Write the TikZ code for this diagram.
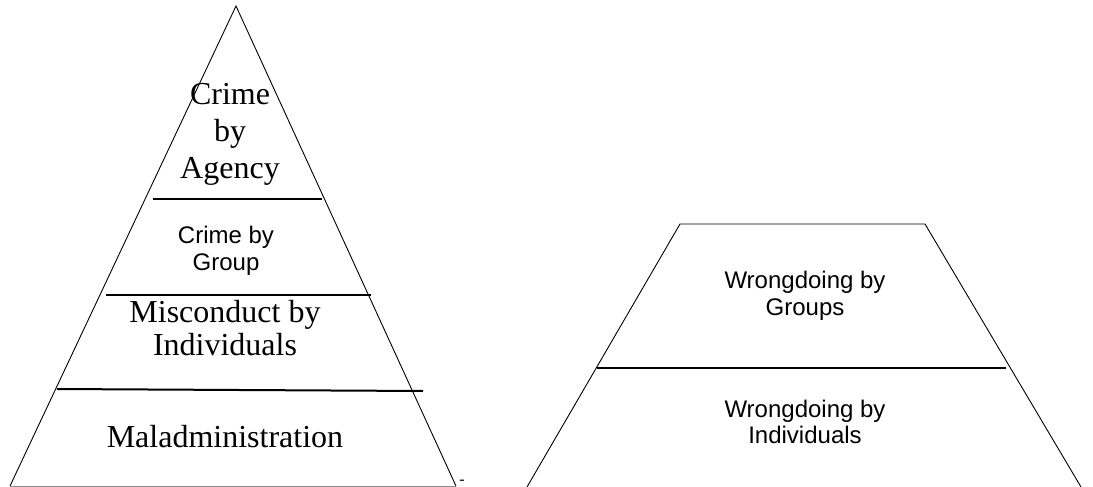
\documentclass[tikz,border=0pt]{standalone}
\usepackage{fontspec}
\setmainfont{Liberation Serif}
\setsansfont{Liberation Sans}
\begin{document}
\begin{tikzpicture}[x=1pt,y=-1pt,
  outline/.style={draw=black,line width=0.9pt},
  divider/.style={draw=black,line width=2pt},
  baseedge/.style={draw=black!45,line width=0.9pt},
  serifbig/.style={font=\rmfamily\fontsize{32}{37}\selectfont,align=center,anchor=base,inner sep=0pt},
  sanslabel/.style={font=\sffamily\fontsize{24}{27}\selectfont,align=center,anchor=base,inner sep=0pt}]
\useasboundingbox (0,0) rectangle (1093,487);

% left pyramid
\coordinate (apex) at (236,6);
\coordinate (bl) at (10,486);
\coordinate (br) at (456,486);
\draw[outline] (bl) -- (apex) -- (br);
\draw[baseedge] (bl) -- (br);

% tier dividers
\coordinate (d1l) at (153,199);
\coordinate (d1r) at (322,199);
\coordinate (d2l) at (106,295);
\coordinate (d2r) at (371,295);
\coordinate (d3l) at (57,389);
\coordinate (d3r) at (423,391);
\draw[divider] (d1l) -- (d1r);
\draw[divider] (d2l) -- (d2r);
\draw[divider] (d3l) -- (d3r);

% tier labels (anchored at the baseline of their last line)
\node[serifbig] (agency) at (230,178) {Crime\\by\\Agency};
\node[sanslabel] (group) at (226,270) {Crime by\\Group};
\node[serifbig,font=\rmfamily\fontsize{32}{33}\selectfont] (misc) at (225,355) {Misconduct by\\Individuals};
\node[serifbig] (malad) at (225,447) {Maladministration};
\node[font=\rmfamily\fontsize{16}{18}\selectfont,anchor=base,inner sep=0pt] (dash) at (462,484) {-};

% right trapezoid
\coordinate (tl) at (680,224);
\coordinate (tr) at (925,224);
\coordinate (rbl) at (527,487);
\coordinate (rbr) at (1081,487);
\draw[outline] (rbl) -- (tl) -- (tr) -- (rbr);
\coordinate (m1) at (597,368);
\coordinate (m2) at (1006,368);
\draw[divider] (m1) -- (m2);

\node[sanslabel] (groups) at (805,315) {Wrongdoing by\\Groups};
\node[sanslabel,font=\sffamily\fontsize{24}{26}\selectfont] (indiv) at (805,443) {Wrongdoing by\\Individuals};
\end{tikzpicture}
\end{document}
